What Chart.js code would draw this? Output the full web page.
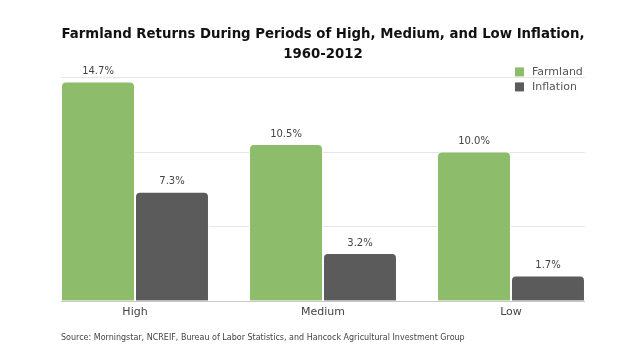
<!DOCTYPE html>
<html>
<head>
<meta charset="utf-8">
<script src="https://cdn.jsdelivr.net/npm/chart.js@4"></script>
<style>
  html, body { margin: 0; padding: 0; background: #fff; }
  #wrap { width: 624px; height: 361px; }
</style>
</head>
<body>
<div id="wrap"><canvas id="chart1"></canvas></div>
<script>
// Données
const periods = ["High", "Medium", "Low"];
const farmland = [14.7, 10.5, 10.0];
const inflation = [7.3, 3.2, 1.7];
const gridValues = [0, 5, 10, 15];
const titleLines = ["Farmland Returns During Periods of High, Medium, and Low Inflation,", "1960-2012"];
const sourceText = "Source: Morningstar, NCREIF, Bureau of Labor Statistics, and Hancock Agricultural Investment Group";

const FONT = "'DejaVu Sans', sans-serif";
const TEXT = "#444";

// étendue des barres (bord gauche de la 1re, bord droit de la dernière)
function barSpan(chart) {
  const first = chart.getDatasetMeta(0).data[0];
  const lastMeta = chart.getDatasetMeta(chart.data.datasets.length - 1);
  const last = lastMeta.data[lastMeta.data.length - 1];
  return [first.x - first.width / 2, last.x + last.width / 2];
}

// lignes de grille + axe de base
const gridPlugin = {
  id: 'gridLines',
  beforeDatasetsDraw(chart) {
    const ctx = chart.ctx;
    const y = chart.scales.y;
    const [x0, x1] = barSpan(chart);
    ctx.save();
    gridValues.forEach(v => {
      const py = Math.round(y.getPixelForValue(v)) + 0.5;
      ctx.strokeStyle = v === 0 ? "#c8c8c8" : "#e6e6e6";
      ctx.lineWidth = 1;
      ctx.beginPath();
      ctx.moveTo(x0, py);
      ctx.lineTo(x1, py);
      ctx.stroke();
    });
    ctx.restore();
  }
};

// étiquettes de valeurs, légende, source
const extrasPlugin = {
  id: 'extras',
  afterDatasetsDraw(chart) {
    const ctx = chart.ctx;
    ctx.save();
    ctx.font = "10px " + FONT;
    ctx.fillStyle = TEXT;
    ctx.textAlign = "center";
    ctx.textBaseline = "middle";
    chart.data.datasets.forEach((ds, i) => {
      chart.getDatasetMeta(i).data.forEach((bar, j) => {
        ctx.fillText(ds.data[j].toFixed(1) + "%", bar.x, bar.y - 10);
      });
    });

    // légende
    const [x0, x1] = barSpan(chart);
    const top = chart.chartArea.top;
    ctx.font = "11px " + FONT;
    ctx.textAlign = "left";
    chart.data.datasets.forEach((ds, i) => {
      const cy = top - 5 + i * 15;
      ctx.fillStyle = ds.backgroundColor;
      ctx.fillRect(x1 - 70, cy - 4.5, 9, 9);
      ctx.fillStyle = "#555";
      ctx.fillText(ds.label, x1 - 53, cy);
    });

    // source
    ctx.font = "8px " + FONT;
    ctx.fillStyle = TEXT;
    ctx.fillText(sourceText, x0, chart.chartArea.bottom + 37);
    ctx.restore();
  }
};

new Chart(document.getElementById("chart1"), {
    type: 'bar',
    data: {
      labels: periods,
      datasets: [
        {
          label: "Farmland",
          backgroundColor: "#8dbd6a",
          data: farmland
        },
        {
          label: "Inflation",
          backgroundColor: "#5b5b5b",
          data: inflation
        }
      ]
    },
    options: {
      responsive: true,
      maintainAspectRatio: false,
      animation: false,
      layout: { padding: { left: 41, right: 19, top: 0, bottom: 37 } },
      datasets: {
        bar: {
          categoryPercentage: 0.787,
          barPercentage: 1,
          borderColor: "#fff",
          borderWidth: 1,
          borderRadius: 5
        }
      },
      plugins: {
        legend: { display: false },
        tooltip: { enabled: false },
        title: {
          display: true,
          text: titleLines,
          color: "#111",
          font: { family: FONT, size: 13.3, weight: 'bold', lineHeight: 1.5 },
          padding: { top: 25, bottom: 12 }
        }
      },
      scales: {
        x: {
          grid: { display: false, drawTicks: false },
          border: { display: false },
          ticks: { color: TEXT, padding: 5, font: { family: FONT, size: 11 } }
        },
        y: {
          display: false,
          min: 0,
          max: 15,
          ticks: { stepSize: 5 }
        }
      }
    },
    plugins: [gridPlugin, extrasPlugin]
});
</script>
</body>
</html>
